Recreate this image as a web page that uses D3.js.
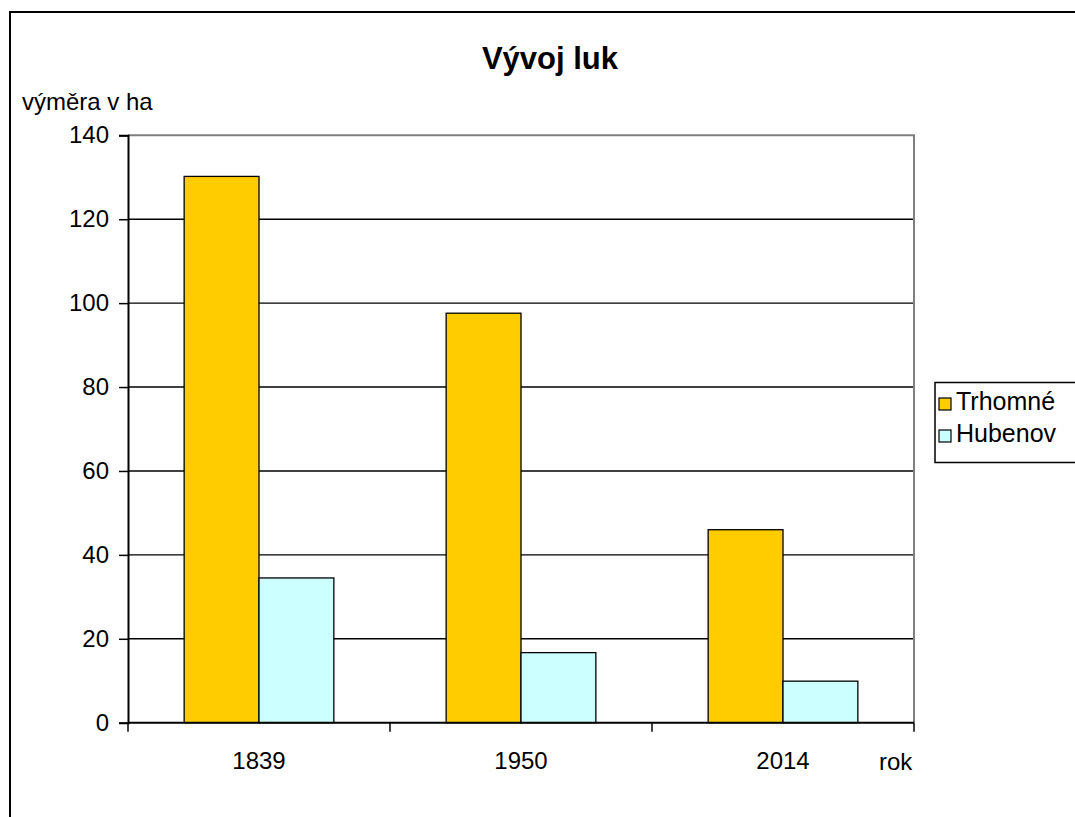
<!DOCTYPE html>
<html>
<head>
<meta charset="utf-8">
<script src="https://cdn.jsdelivr.net/npm/d3@7"></script>
<style>
  html, body { margin: 0; padding: 0; background: #fff; }
  svg { display: block; font-family: "Liberation Sans", Arial, sans-serif; }
</style>
</head>
<body>
<svg id="chart" width="1075" height="817"></svg>
<script>
// Meadow area (ha) by year
const years = ["1839", "1950", "2014"];
const seriesNames = ["Trhomné", "Hubenov"];
const trhomne = [130.2, 97.6, 46.0];
const hubenov = [34.5, 16.7, 9.9];
const yTicks = [0, 20, 40, 60, 80, 100, 120, 140];
const colors = ["#FFCC00", "#CCFFFF"];

const svg = d3.select("#chart");

// outer frame
svg.append("rect")
  .attr("x", 10).attr("y", 12)
  .attr("width", 1100).attr("height", 900)
  .attr("fill", "#fff").attr("stroke", "#000").attr("stroke-width", 2);

const plotL = 128, plotR = 914, plotT = 135.3, plotB = 722.7;

const x = d3.scaleBand().domain(years).range([plotL, plotR]).paddingInner(0).paddingOuter(0);
const y = d3.scaleLinear().domain([0, 140]).range([plotB, plotT]);

// bars in each group: gap width 150% of a bar
const barW = x.bandwidth() / 3.5;
const xs = d3.scaleBand().domain(seriesNames)
  .range([barW * 0.75, barW * 2.75]).padding(0);

// gridlines
svg.append("g").selectAll("line")
  .data(yTicks.filter(t => t > 0 && t < 140))
  .join("line")
  .attr("x1", plotL).attr("x2", plotR)
  .attr("y1", d => y(d)).attr("y2", d => y(d))
  .attr("stroke", "#000").attr("stroke-width", 1.4);

// plot border (top and right)
svg.append("path")
  .attr("d", `M${plotL},${y(140)}H${plotR}V${plotB}`)
  .attr("fill", "none").attr("stroke", "#808080").attr("stroke-width", 2);

// bars
const rows = years.map((yr, i) => ({ year: yr, values: [trhomne[i], hubenov[i]] }));
const groups = svg.append("g").selectAll("g")
  .data(rows).join("g")
  .attr("transform", d => `translate(${x(d.year)},0)`);

groups.selectAll("rect")
  .data(d => d.values.map((v, j) => ({ name: seriesNames[j], value: v, j })))
  .join("rect")
  .attr("x", d => xs(d.name))
  .attr("width", xs.bandwidth())
  .attr("y", d => y(d.value))
  .attr("height", d => y(0) - y(d.value))
  .attr("fill", d => colors[d.j])
  .attr("stroke", "#000").attr("stroke-width", 1.3);

// y axis
const yAxis = d3.axisLeft(y).tickValues(yTicks).tickSize(9).tickPadding(10).tickFormat(d3.format("d"));
const gy = svg.append("g").attr("transform", `translate(${plotL},0)`).call(yAxis);
gy.select(".domain").attr("stroke", "#000").attr("stroke-width", 2);
gy.selectAll(".tick line").attr("stroke", "#000").attr("stroke-width", 1.5);
gy.selectAll(".tick text").attr("font-size", 24).attr("fill", "#000")
  .attr("font-family", "Liberation Sans, Arial, sans-serif");

// x axis: ticks at category boundaries
const gx = svg.append("g").attr("transform", `translate(0,${plotB})`);
gx.append("line").attr("x1", plotL).attr("x2", plotR).attr("stroke", "#000").attr("stroke-width", 2);
const bounds = years.map(d => x(d)).concat([plotR]);
gx.selectAll("line.tk").data(bounds).join("line").attr("class", "tk")
  .attr("x1", d => d).attr("x2", d => d).attr("y1", 0).attr("y2", 9)
  .attr("stroke", "#000").attr("stroke-width", 1.5);
gx.selectAll("text").data(years).join("text")
  .attr("x", d => x(d) + x.bandwidth() / 2)
  .attr("y", 46)
  .attr("text-anchor", "middle")
  .attr("font-size", 24)
  .text(d => d);

// axis titles
svg.append("text").attr("x", 22).attr("y", 110).attr("font-size", 24).text("výměra v ha");
svg.append("text").attr("x", 879).attr("y", 770).attr("font-size", 24).text("rok");

// chart title
svg.append("text").attr("x", 550).attr("y", 69).attr("text-anchor", "middle")
  .attr("font-size", 31).attr("font-weight", "bold").text("Vývoj luk");

// legend
const lg = svg.append("g");
lg.append("rect").attr("x", 935).attr("y", 382.5).attr("width", 160).attr("height", 80)
  .attr("fill", "#fff").attr("stroke", "#000").attr("stroke-width", 1.5);
const items = lg.selectAll("g.item").data(seriesNames).join("g").attr("class", "item")
  .attr("transform", (d, i) => `translate(939,${398 + i * 32})`);
items.append("rect").attr("width", 12).attr("height", 12)
  .attr("fill", (d, i) => colors[i]).attr("stroke", "#000").attr("stroke-width", 1.2);
items.append("text").attr("x", 17).attr("y", 12).attr("font-size", 25).text(d => d);
</script>
</body>
</html>
